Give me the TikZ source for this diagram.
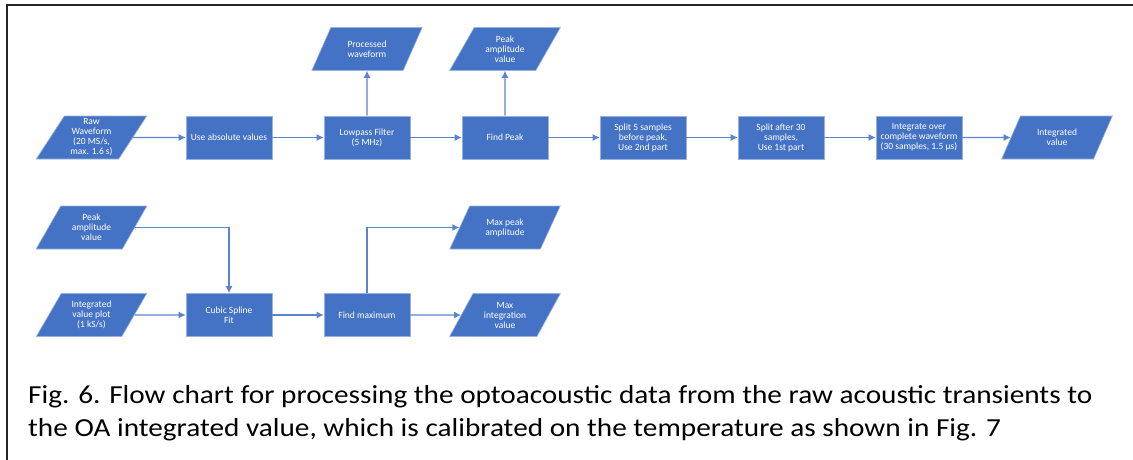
\documentclass[tikz,border=0pt]{standalone}
\usepackage{fontspec}
\setmainfont{Carlito}
\usetikzlibrary{arrows.meta,shapes.geometric}

\definecolor{boxblue}{HTML}{4472C4}
\definecolor{linkblue}{HTML}{5B84CF}

\tikzset{
  procbox/.style={rectangle,fill=boxblue,draw=boxblue!55!white,line width=0.6pt,
    text=white,align=center,inner sep=1pt,minimum width=86pt,minimum height=43pt,
    font=\fontsize{9.5}{10}\selectfont},
  databox/.style={procbox,trapezium,trapezium left angle=60,trapezium right angle=120,
    trapezium stretches=true,minimum width=111pt},
  flow/.style={-{Latex[length=7pt,width=7pt]},draw=linkblue,line width=1.1pt},
  captext/.style={anchor=base west,inner sep=0pt,font=\fontsize{26}{33}\selectfont}
}
\newcommand{\capline}[1]{\scalebox{1.125}[1]{#1}}

\begin{document}
\begin{tikzpicture}[x=1pt,y=-1pt]
        \useasboundingbox (0,0) rectangle (1133,460);
        \draw[line width=1.6pt,black!85] (6,5) -- (1133,5);
        \draw[line width=1.4pt,black!85] (7,4.2) -- (7,460);
        % main chain
        \node[databox](raw)at(91.5,137.5){Raw\\Waveform\\(20 MS/s,\\max. 1.6 s)};
        \node[procbox](abs)at(229,137.5){Use absolute values};
        \node[procbox](lpf)at(367,137.5){Lowpass Filter\\(5 MHz)};
        \node[procbox](peak)at(505,137.5){Find Peak};
        \node[procbox](cut1)at(643,137.5){Split 5 samples\\before peak,\\Use 2nd part};
        \node[procbox](cut2)at(781,137.5){Split after 30\\samples,\\Use 1st part};
        \node[procbox](integ)at(919,137.5){Integrate over\\complete waveform\\(30 samples, 1.5 µs)};
        \node[databox](ival)at(1057,137.5){Integrated\\value};
        \node[databox](proc)at(367,49){Processed\\waveform};
        \node[databox](pav)at(505,49){Peak\\amplitude\\value};
        \draw[flow](raw)--(abs);
        \draw[flow](abs)--(lpf);
        \draw[flow](lpf)--(peak);
        \draw[flow](peak)--(cut1);
        \draw[flow](cut1)--(cut2);
        \draw[flow](cut2)--(integ);
        \draw[flow](integ)--(ival);
        \draw[flow](lpf)--(proc);
        \draw[flow](peak)--(pav);
        % calibration part
        \node[databox](pav2)at(91.5,227.5){Peak\\amplitude\\value};
        \node[databox](ivp)at(91.5,315){Integrated\\value plot\\(1 kS/s)};
        \node[procbox](spline)at(229,315){Cubic Spline\\Fit};
        \node[procbox](fmax)at(367,315){Find maximum};
        \node[databox](maxpk)at(505,227.5){Max peak\\amplitude};
        \node[databox](maxint)at(505,315){Max\\integration\\value};
        \draw[flow](pav2)-|(spline);
        \draw[flow](ivp)--(spline);
        \draw[flow](spline)--(fmax);
        \draw[flow](fmax)|-(maxpk);
        \draw[flow](fmax)--(maxint);
        % caption
        \node[captext](cap1)at(28,403){\capline{Fig. 6. Flow chart for processing the optoacoustic data from the raw acoustic transients to}};
        \node[captext](cap2)at(28,436){\capline{the OA integrated value, which is calibrated on the temperature as shown in Fig. 7}};
    \end{tikzpicture}
\end{document}
